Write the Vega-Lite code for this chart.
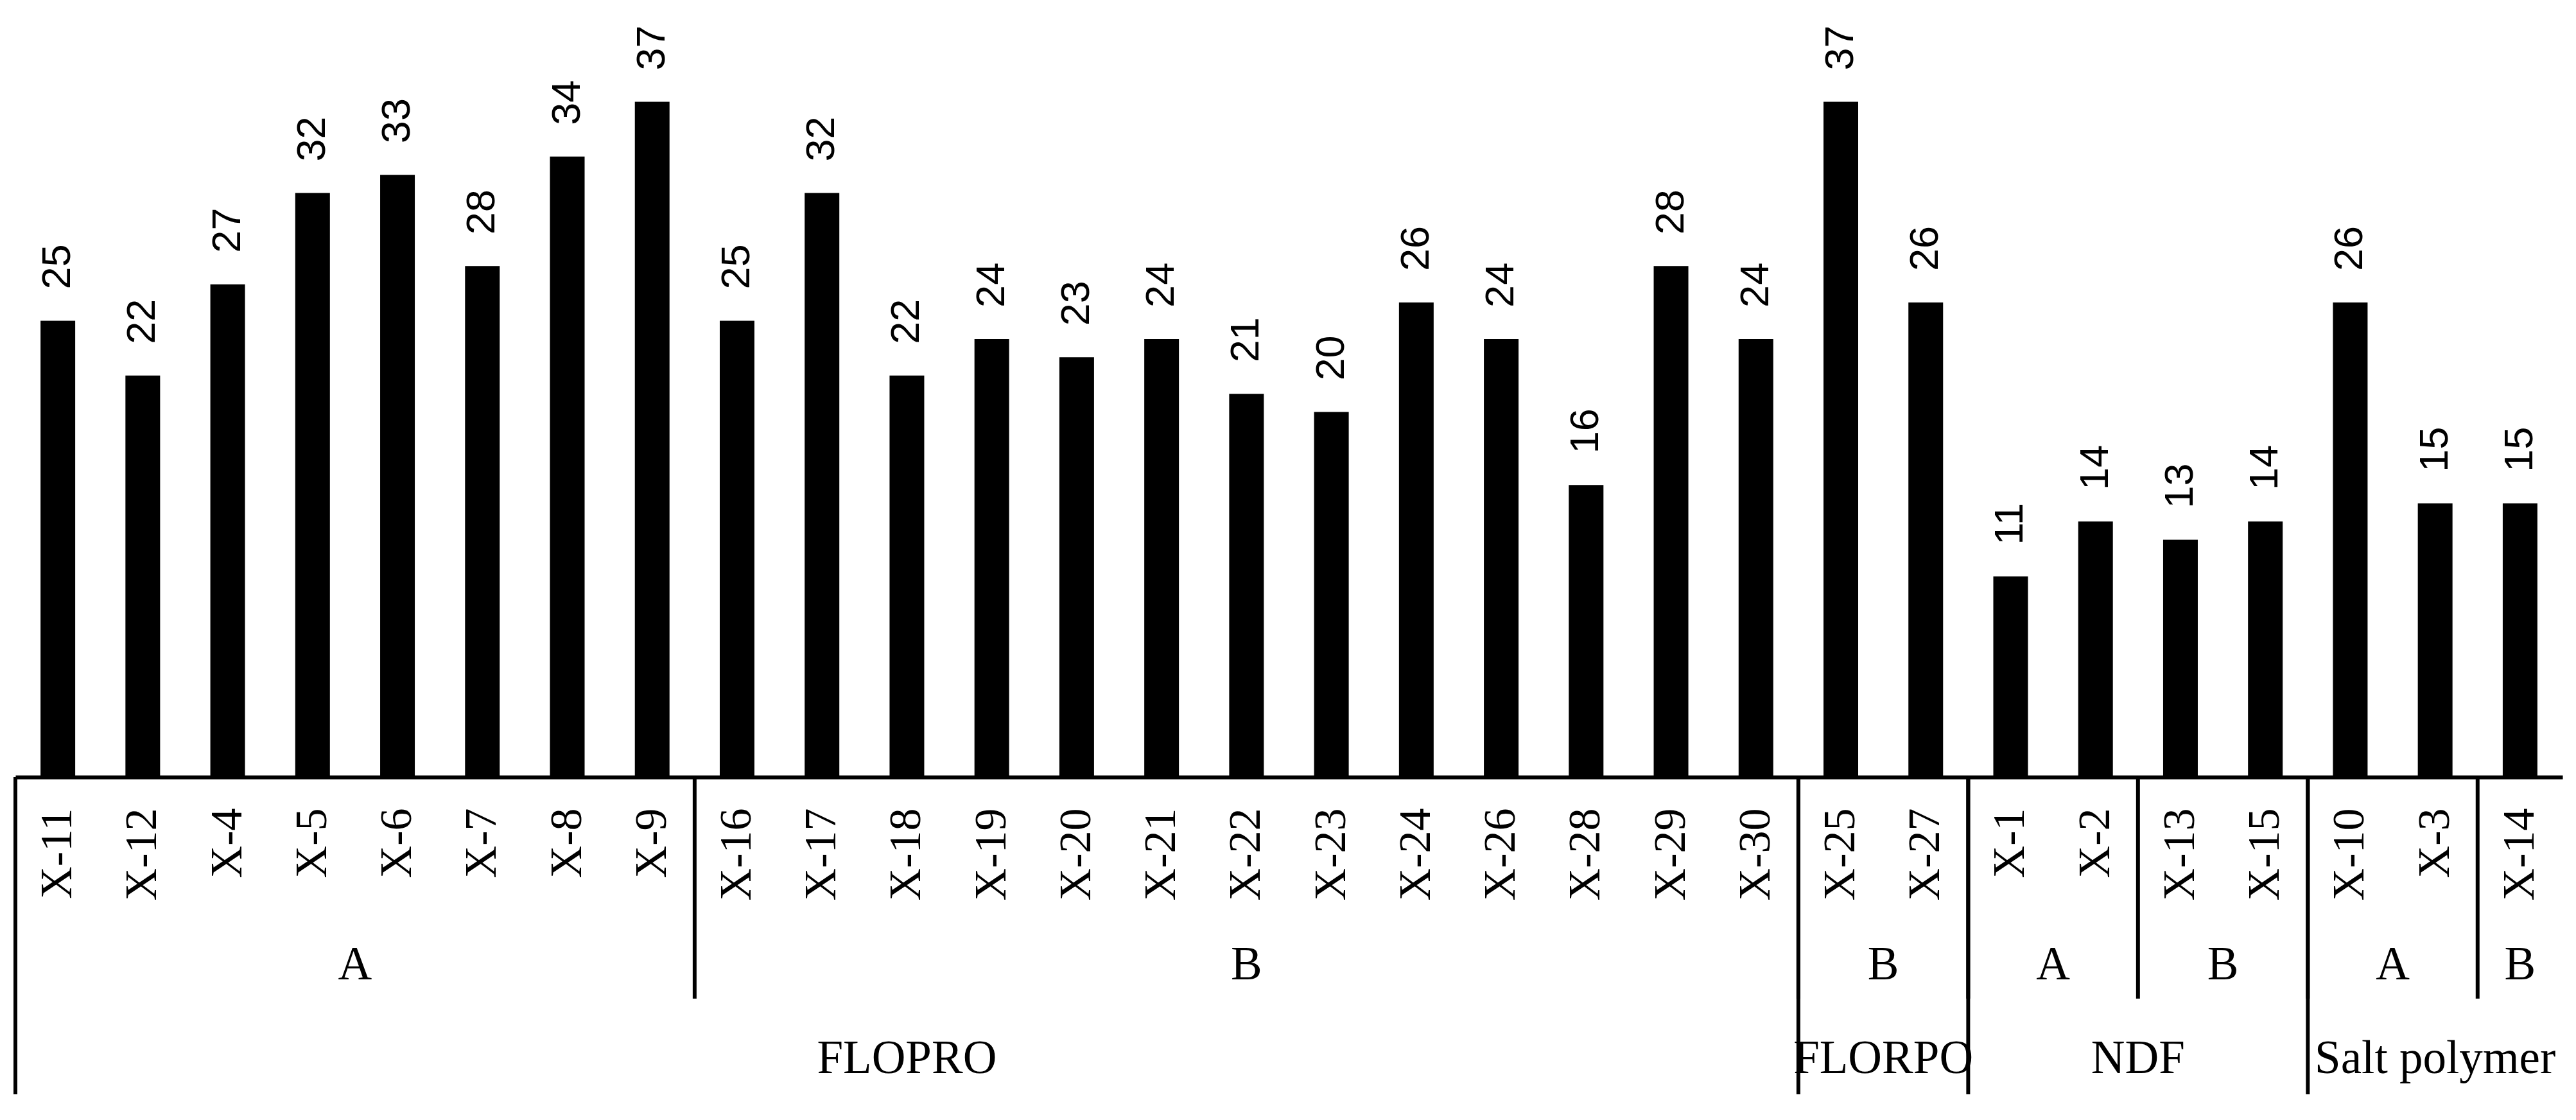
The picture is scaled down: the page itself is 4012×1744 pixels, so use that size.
{
  "$schema": "https://vega.github.io/schema/vega-lite/v6.json",
  "width": 3967,
  "height": 1210,
  "autosize": {"type": "none"},
  "padding": {"left": 24, "top": 0, "right": 21, "bottom": 534},
  "background": "#ffffff",
  "view": {"stroke": null},
  "config": {"font": "Liberation Serif"},
  "datasets": {
    "bars": [
      {"sample": "X-11", "value": 25, "group": "FLOPRO", "subgroup": "A"},
      {"sample": "X-12", "value": 22, "group": "FLOPRO", "subgroup": "A"},
      {"sample": "X-4", "value": 27, "group": "FLOPRO", "subgroup": "A"},
      {"sample": "X-5", "value": 32, "group": "FLOPRO", "subgroup": "A"},
      {"sample": "X-6", "value": 33, "group": "FLOPRO", "subgroup": "A"},
      {"sample": "X-7", "value": 28, "group": "FLOPRO", "subgroup": "A"},
      {"sample": "X-8", "value": 34, "group": "FLOPRO", "subgroup": "A"},
      {"sample": "X-9", "value": 37, "group": "FLOPRO", "subgroup": "A"},
      {"sample": "X-16", "value": 25, "group": "FLOPRO", "subgroup": "B"},
      {"sample": "X-17", "value": 32, "group": "FLOPRO", "subgroup": "B"},
      {"sample": "X-18", "value": 22, "group": "FLOPRO", "subgroup": "B"},
      {"sample": "X-19", "value": 24, "group": "FLOPRO", "subgroup": "B"},
      {"sample": "X-20", "value": 23, "group": "FLOPRO", "subgroup": "B"},
      {"sample": "X-21", "value": 24, "group": "FLOPRO", "subgroup": "B"},
      {"sample": "X-22", "value": 21, "group": "FLOPRO", "subgroup": "B"},
      {"sample": "X-23", "value": 20, "group": "FLOPRO", "subgroup": "B"},
      {"sample": "X-24", "value": 26, "group": "FLOPRO", "subgroup": "B"},
      {"sample": "X-26", "value": 24, "group": "FLOPRO", "subgroup": "B"},
      {"sample": "X-28", "value": 16, "group": "FLOPRO", "subgroup": "B"},
      {"sample": "X-29", "value": 28, "group": "FLOPRO", "subgroup": "B"},
      {"sample": "X-30", "value": 24, "group": "FLOPRO", "subgroup": "B"},
      {"sample": "X-25", "value": 37, "group": "FLORPO", "subgroup": "B"},
      {"sample": "X-27", "value": 26, "group": "FLORPO", "subgroup": "B"},
      {"sample": "X-1", "value": 11, "group": "NDF", "subgroup": "A"},
      {"sample": "X-2", "value": 14, "group": "NDF", "subgroup": "A"},
      {"sample": "X-13", "value": 13, "group": "NDF", "subgroup": "B"},
      {"sample": "X-15", "value": 14, "group": "NDF", "subgroup": "B"},
      {"sample": "X-10", "value": 26, "group": "Salt polymer", "subgroup": "A"},
      {"sample": "X-3", "value": 15, "group": "Salt polymer", "subgroup": "A"},
      {"sample": "X-14", "value": 15, "group": "Salt polymer", "subgroup": "B"}
    ],
    "spans": [
      {"level": "group", "label": "FLOPRO", "first": "X-11", "n": 21},
      {"level": "group", "label": "FLORPO", "first": "X-25", "n": 2},
      {"level": "group", "label": "NDF", "first": "X-1", "n": 4},
      {"level": "group", "label": "Salt polymer", "first": "X-10", "n": 3},
      {"level": "sub", "label": "A", "first": "X-11", "n": 8},
      {"level": "sub", "label": "B", "first": "X-16", "n": 13},
      {"level": "sub", "label": "B", "first": "X-25", "n": 2},
      {"level": "sub", "label": "A", "first": "X-1", "n": 2},
      {"level": "sub", "label": "B", "first": "X-13", "n": 2},
      {"level": "sub", "label": "A", "first": "X-10", "n": 2},
      {"level": "sub", "label": "B", "first": "X-14", "n": 1}
    ]
  },
  "layer": [
    {
      "data": {"name": "bars"},
      "mark": {"type": "bar", "color": "#000000", "width": 54},
      "encoding": {
        "x": {
          "field": "sample",
          "type": "nominal",
          "scale": {
            "domain": ["X-11", "X-12", "X-4", "X-5", "X-6", "X-7", "X-8", "X-9", "X-16", "X-17", "X-18", "X-19", "X-20", "X-21", "X-22", "X-23", "X-24", "X-26", "X-28", "X-29", "X-30", "X-25", "X-27", "X-1", "X-2", "X-13", "X-15", "X-10", "X-3", "X-14"],
            "paddingInner": 0,
            "paddingOuter": 0
          },
          "axis": {
            "title": null,
            "orient": "bottom",
            "ticks": false,
            "tickSize": 0,
            "grid": false,
            "domain": true,
            "domainColor": "#000000",
            "domainWidth": 6,
            "labelAngle": 270,
            "labelAlign": "right",
            "labelBaseline": "middle",
            "labelPadding": 48,
            "labelFont": "Liberation Serif",
            "labelFontSize": 70,
            "labelColor": "#000000",
            "labelOverlap": false,
            "labelLimit": 0
          }
        },
        "y": {
          "field": "value",
          "type": "quantitative",
          "scale": {"domain": [0, 42.575], "nice": false},
          "axis": null
        }
      }
    },
    {
      "data": {"name": "bars"},
      "mark": {
        "type": "text",
        "angle": 270,
        "align": "left",
        "baseline": "middle",
        "dx": 49,
        "font": "Liberation Sans",
        "fontSize": 63,
        "color": "#000000"
      },
      "encoding": {
        "x": {"field": "sample", "type": "nominal"},
        "y": {"field": "value", "type": "quantitative", "axis": null},
        "text": {"field": "value", "type": "quantitative"}
      }
    },
    {
      "data": {"name": "spans"},
      "transform": [{"filter": "datum.level === 'sub'"}],
      "mark": {"type": "rule", "color": "#000000", "strokeWidth": 6},
      "encoding": {
        "x": {"field": "first", "type": "nominal", "bandPosition": 0},
        "y": {"datum": 0, "type": "quantitative", "axis": null},
        "y2": {"datum": -12.14}
      }
    },
    {
      "data": {"name": "spans"},
      "transform": [{"filter": "datum.level === 'group'"}],
      "mark": {"type": "rule", "color": "#000000", "strokeWidth": 6},
      "encoding": {
        "x": {"field": "first", "type": "nominal", "bandPosition": 0},
        "y": {"datum": 0, "type": "quantitative", "axis": null},
        "y2": {"datum": -17.38}
      }
    },
    {
      "data": {"name": "spans"},
      "transform": [{"filter": "datum.level === 'sub'"}],
      "mark": {
        "type": "text",
        "align": "center",
        "baseline": "alphabetic",
        "font": "Liberation Serif",
        "fontSize": 73,
        "color": "#000000"
      },
      "encoding": {
        "x": {"field": "first", "type": "nominal", "bandPosition": 0},
        "xOffset": {
          "field": "n",
          "type": "quantitative",
          "scale": {"domain": [0, 30], "range": [0, 1983.45]}
        },
        "y": {"datum": -11.08, "type": "quantitative", "axis": null},
        "text": {"field": "label"}
      }
    },
    {
      "data": {"name": "spans"},
      "transform": [{"filter": "datum.level === 'group'"}],
      "mark": {
        "type": "text",
        "align": "center",
        "baseline": "alphabetic",
        "font": "Liberation Serif",
        "fontSize": 73,
        "color": "#000000"
      },
      "encoding": {
        "x": {"field": "first", "type": "nominal", "bandPosition": 0},
        "xOffset": {
          "field": "n",
          "type": "quantitative",
          "scale": {"domain": [0, 30], "range": [0, 1983.45]}
        },
        "y": {"datum": -16.22, "type": "quantitative", "axis": null},
        "text": {"field": "label"}
      }
    }
  ]
}
